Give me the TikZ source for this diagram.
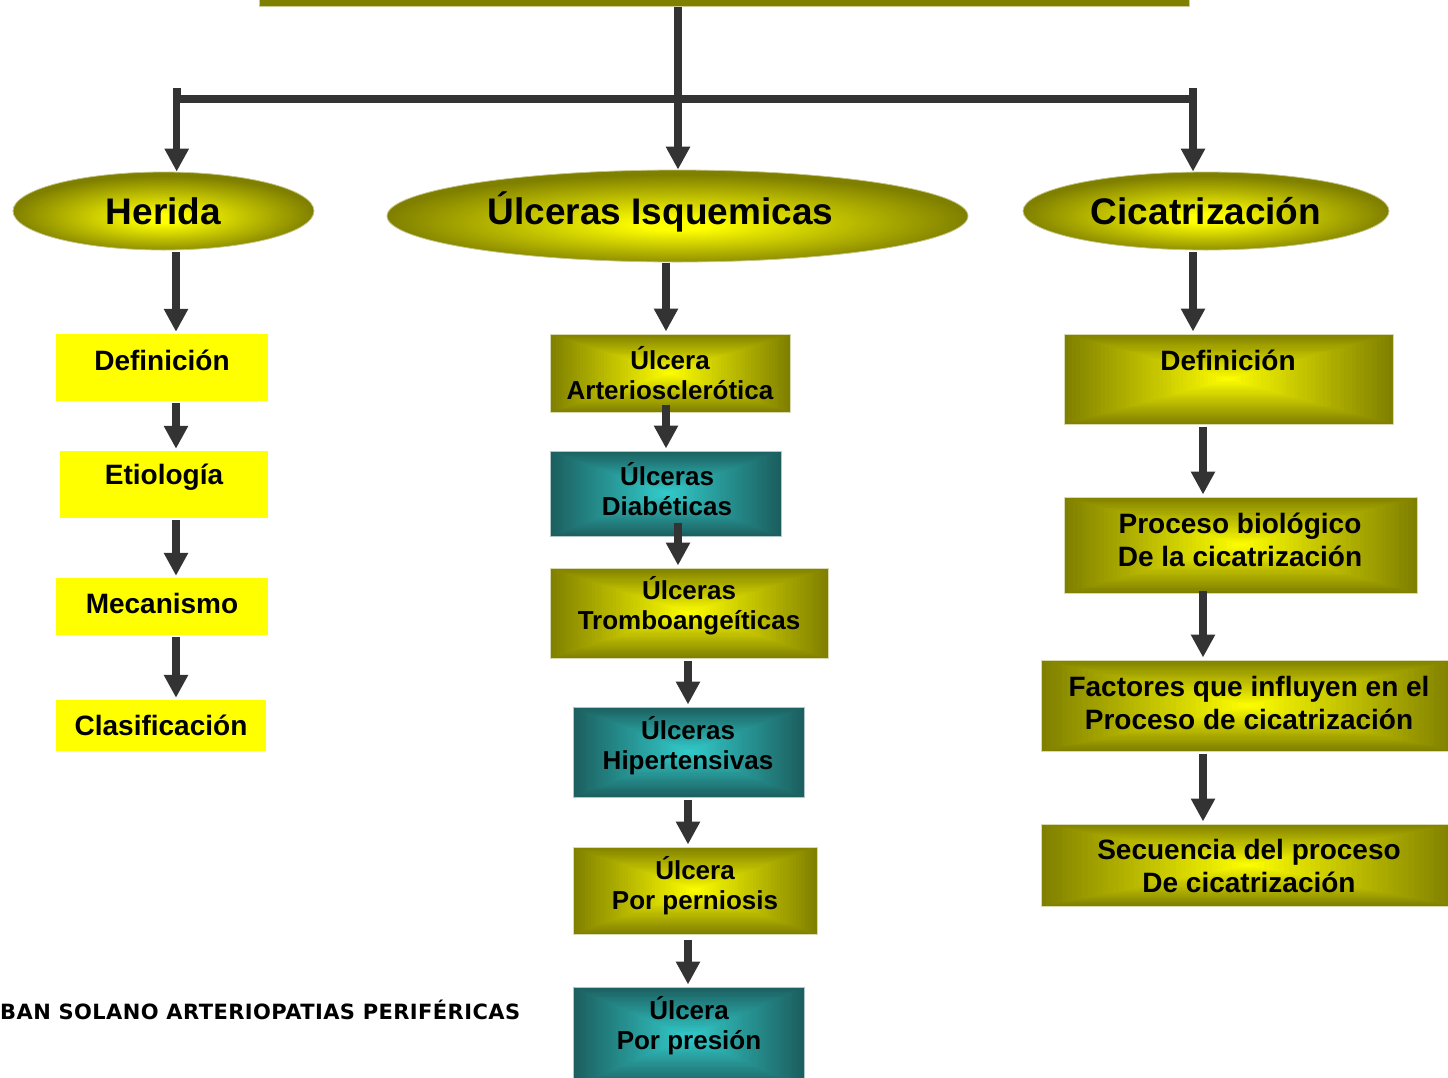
\documentclass[tikz,border=0pt]{standalone}
\usepackage{fontspec}
\setmainfont{Liberation Sans}
\newfontfamily\footfont{DejaVu Sans}[LetterSpace=2.0]
\usetikzlibrary{shapes.geometric,arrows.meta,calc}

\definecolor{oli}{HTML}{808000}
\definecolor{yel}{HTML}{FFFF00}
\definecolor{tealdark}{HTML}{1C5F5F}
\definecolor{teallight}{HTML}{33CCCC}
\definecolor{dk}{HTML}{333333}

% radial shading for the three headings, bright spot slightly below the middle
\pgfdeclareradialshading{ellshade}{\pgfpoint{0bp}{-5bp}}{color(0bp)=(yel); color(3bp)=(yel); color(25bp)=(oli); color(50bp)=(oli)}

\tikzset{
  % rectangular "from the centre" gradient built from nested rectangles
  rgrad/.style 2 args={path picture={
      \foreach \k in {0,...,40}{
        \pgfmathsetmacro\f{\k/40}
        \pgfmathsetmacro\p{100*\k/40}
        \fill[#2!\p!#1]
          ($(path picture bounding box.south west)!\f!(path picture bounding box.center)$)
          rectangle
          ($(path picture bounding box.north east)!\f!(path picture bounding box.center)$);
      }}},
  box/.style={rectangle, inner sep=0pt},
  olibox/.style={box, draw=oli!30!white, line width=1pt, rgrad={oli}{yel}},
  tealbox/.style={box, draw=tealdark!35!white, line width=1pt, rgrad={tealdark}{teallight}},
  flatbox/.style={box, fill=yel},
  heading/.style={ellipse, inner sep=0pt, shading=ellshade, draw=oli!45!white, line width=0.8pt,
                  font=\bfseries\fontsize{37}{40}\selectfont},
  lbl/.style={inner sep=0pt, align=center, font=\bfseries\fontsize{28}{33}\selectfont},
  mlbl/.style={inner sep=0pt, align=center, font=\bfseries\fontsize{26}{30}\selectfont},
  conn/.style={draw=dk, line width=8pt},
  arr/.style={draw=dk, line width=7.5pt, -{Triangle[width=23pt,length=23pt]}},
}

\begin{document}
\begin{tikzpicture}[x=1pt,y=-1pt]
\useasboundingbox (0,0) rectangle (1448,1077);
\clip (0,0) rectangle (1448,1077);

% title bar, only its lower edge shows
\node[box, fill=oli, draw=oli!40!white, line width=1pt, minimum width=930pt, minimum height=52pt] (top) at (724,-20) {};

% headings
\node[heading, minimum width=301pt, minimum height=78pt] (her) at (163.5,211) {Herida};
\node[heading, minimum width=581pt, minimum height=92pt] (isq) at (677.5,216)
  {\kern-34pt\raisebox{4pt}[\height][\depth]{Úlceras Isquemicas}};
\node[heading, minimum width=366pt, minimum height=78pt] (cic) at (1206,211) {Cicatrización};

% left column
\node[flatbox, minimum width=212pt, minimum height=67pt] (ld1) at (162,367.5) {};
\node[flatbox, minimum width=208pt, minimum height=67pt] (ld2) at (164,484.5) {};
\node[flatbox, minimum width=212pt, minimum height=57pt] (ld3) at (162,606.5) {};
\node[flatbox, minimum width=210pt, minimum height=51pt] (ld4) at (161,725.5) {};
\node[lbl] (ld1t) at (162,360) {Definición};
\node[lbl] (ld2t) at (164,477) {Etiología};
\node[lbl] (ld3t) at (162,603) {Mecanismo};
\node[lbl] (ld4t) at (161,725) {Clasificación};

% middle column
\node[olibox,  minimum width=240pt, minimum height=78pt] (m1) at (670,373) {};
\node[tealbox, minimum width=231pt, minimum height=85pt] (m2) at (665.5,493.5) {};
\node[olibox,  minimum width=278pt, minimum height=90pt] (m3) at (689,613) {};
\node[tealbox, minimum width=231pt, minimum height=90pt] (m4) at (688.5,752) {};
\node[olibox,  minimum width=244pt, minimum height=87pt] (m5) at (695,890.5) {};
\node[tealbox, minimum width=231pt, minimum height=100pt] (m6) at (688.5,1037) {};
\node[mlbl] (m1t) at (670,373) {Úlcera\\Arteriosclerótica};
\node[mlbl] (m2t) at (667,489.5) {Úlceras\\Diabéticas};
\node[mlbl] (m3t) at (689,606) {Úlceras\\Tromboangeíticas};
\node[mlbl] (m4t) at (688,746) {Úlceras\\Hipertensivas};
\node[mlbl] (m5t) at (695,886) {Úlcera\\Por perniosis};
\node[mlbl] (m6t) at (689,1026) {Úlcera\\Por presión};

% right column
\node[olibox, minimum width=329pt, minimum height=90pt] (r1) at (1228.5,379) {};
\node[olibox, minimum width=353pt, minimum height=96pt] (r2) at (1240.5,545) {};
\node[olibox, minimum width=414pt, minimum height=91pt] (r3) at (1248,705.5) {};
\node[olibox, minimum width=414pt, minimum height=82pt] (r4) at (1248,865) {};
\node[lbl] (r1t) at (1228,360) {Definición};
\node[lbl] (r2t) at (1240,539.5) {Proceso biológico\\De la cicatrización};
\node[lbl] (r3t) at (1249,702.5) {Factores que influyen en el\\Proceso de cicatrización};
\node[lbl] (r4t) at (1249,865.5) {Secuencia del proceso\\De cicatrización};

% footer
\node[inner sep=0pt, anchor=base west, font=\footfont\bfseries\fontsize{21}{24}\selectfont] (foot) at (0,1019)
  {BAN SOLANO ARTERIOPATIAS PERIFÉRICAS};

% branching connectors
\coordinate (jl) at (176.7,88);
\coordinate (jm) at (678,99);
\coordinate (jr) at (1193,88);
\draw[conn] (172.7,99) -- (1197,99);
\draw[conn] (jl) -- ++(0,15);
\draw[conn] (jr) -- ++(0,15);
\draw[arr] (jm |- top.south) -- (jm |- isq.north);
\draw[arr] (jl) -- (jl |- her.north);
\draw[arr] (jr) -- (jr |- cic.north);

% left chain
\coordinate (xl) at (176,0);
\draw[arr] ($(xl |- her.south)+(0,2)$) -- ($(xl |- ld1.north)+(0,-2)$);
\draw[arr] ($(xl |- ld1.south)+(0,2)$) -- ($(xl |- ld2.north)+(0,-2)$);
\draw[arr] ($(xl |- ld2.south)+(0,2)$) -- ($(xl |- ld3.north)+(0,-2)$);
\draw[arr] ($(xl |- ld3.south)+(0,2)$) -- ($(xl |- ld4.north)+(0,-2)$);

% middle chain
\coordinate (xa) at (666,0);
\coordinate (xb) at (678,0);
\coordinate (xc) at (688,0);
\draw[arr] ($(xa |- isq.south)+(0,1)$) -- ($(xa |- m1.north)+(0,-2)$);
\draw[arr] ($(xa |- m1.south)+(0,-8)$) -- ($(xa |- m2.north)+(0,-2)$);
\draw[arr] ($(xb |- m2.south)+(0,-14)$) -- ($(xb |- m3.north)+(0,-2)$);
\draw[arr] ($(xc |- m3.south)+(0,2)$) -- ($(xc |- m4.north)+(0,-2)$);
\draw[arr] ($(xc |- m4.south)+(0,2)$) -- ($(xc |- m5.north)+(0,-2)$);
\draw[arr] ($(xc |- m5.south)+(0,5)$) -- ($(xc |- m6.north)+(0,-2)$);

% right chain
\coordinate (xr) at (1193,0);
\coordinate (xs) at (1203,0);
\draw[arr] ($(xr |- cic.south)+(0,2)$) -- ($(xr |- r1.north)+(0,-2)$);
\draw[arr] ($(xs |- r1.south)+(0,2)$) -- ($(xs |- r2.north)+(0,-2)$);
\draw[arr] ($(xs |- r2.south)+(0,-3)$) -- ($(xs |- r3.north)+(0,-2)$);
\draw[arr] ($(xs |- r3.south)+(0,2)$) -- ($(xs |- r4.north)+(0,-2)$);
\end{tikzpicture}
\end{document}
